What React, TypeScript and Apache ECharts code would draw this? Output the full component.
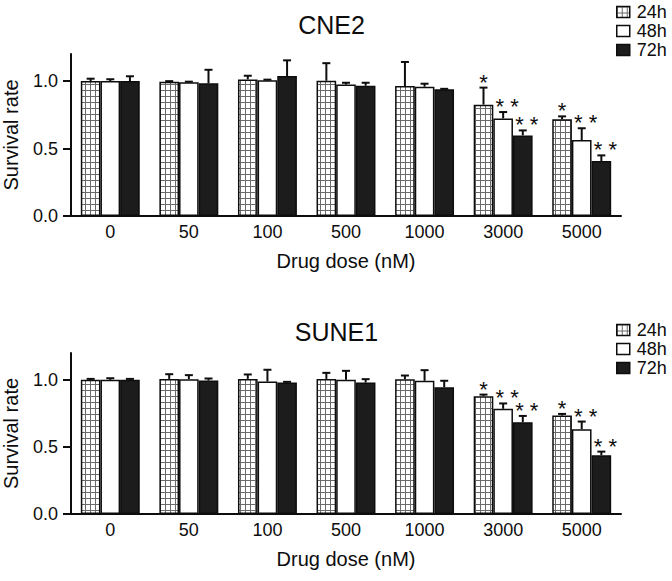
import React, { useEffect, useRef } from 'react';
import * as echarts from 'echarts';

const categories = ['0', '50', '100', '500', '1000', '3000', '5000'];
const timeNames = ['24h', '48h', '72h'];
const yTicks = [0, 0.5, 1.0];
const panelTitles = ['CNE2', 'SUNE1'];

// CNE2
const cne2_24h = [1.0, 0.995, 1.012, 1.002, 0.963, 0.825, 0.716];
const cne2_24h_err = [0.017, 0.004, 0.027, 0.13, 0.178, 0.126, 0.022];
const cne2_48h = [1.0, 0.99, 1.005, 0.975, 0.958, 0.723, 0.563];
const cne2_48h_err = [0.013, 0.005, 0.005, 0.012, 0.022, 0.047, 0.087];
const cne2_72h = [1.0, 0.983, 1.037, 0.965, 0.938, 0.597, 0.407];
const cne2_72h_err = [0.035, 0.1, 0.116, 0.022, 0.004, 0.037, 0.042];
const cne2_sig_24h = ['', '', '', '', '', '*', '*'];
const cne2_sig_48h = ['', '', '', '', '', '**', '**'];
const cne2_sig_72h = ['', '', '', '', '', '**', '**'];

// SUNE1
const sune1_24h = [1.0, 1.007, 1.007, 1.007, 1.005, 0.878, 0.734];
const sune1_24h_err = [0.007, 0.035, 0.033, 0.045, 0.027, 0.012, 0.012];
const sune1_48h = [1.0, 1.005, 0.987, 1.0, 0.993, 0.784, 0.632];
const sune1_48h_err = [0.012, 0.03, 0.088, 0.067, 0.079, 0.04, 0.057];
const sune1_72h = [1.0, 0.995, 0.98, 0.98, 0.945, 0.684, 0.438];
const sune1_72h_err = [0.007, 0.015, 0.005, 0.025, 0.048, 0.047, 0.027];
const sune1_sig_24h = ['', '', '', '', '', '*', '*'];
const sune1_sig_48h = ['', '', '', '', '', '**', '**'];
const sune1_sig_72h = ['', '', '', '', '', '**', '**'];

const panels = [
  {
    title: panelTitles[0],
    values: [cne2_24h, cne2_48h, cne2_72h],
    errors: [cne2_24h_err, cne2_48h_err, cne2_72h_err],
    sigs: [cne2_sig_24h, cne2_sig_48h, cne2_sig_72h],
  },
  {
    title: panelTitles[1],
    values: [sune1_24h, sune1_48h, sune1_72h],
    errors: [sune1_24h_err, sune1_48h_err, sune1_72h_err],
    sigs: [sune1_sig_24h, sune1_sig_48h, sune1_sig_72h],
  },
];

const FONT = '"Liberation Sans", Arial, Helvetica, sans-serif';
const INK = '#0d0d0d';

function makePattern(): HTMLCanvasElement {
  const c = document.createElement('canvas');
  c.width = 5;
  c.height = 6;
  const ctx = c.getContext('2d')!;
  ctx.fillStyle = '#ffffff';
  ctx.fillRect(0, 0, 5, 6);
  ctx.fillStyle = '#6a6a6a';
  ctx.fillRect(0, 0, 5, 1);
  ctx.fillRect(0, 0, 1, 6);
  return c;
}

export default function App() {
  const ref = useRef<HTMLDivElement>(null);

  useEffect(() => {
    if (!ref.current) return;
    const chart = echarts.init(ref.current, undefined, { renderer: 'svg' });
    const pattern = makePattern();
    const fills: any[] = [
      { image: pattern, repeat: 'repeat' },
      '#ffffff',
      '#1c1c1c',
    ];

    const layout = [
      { top: 54, height: 162, titleTop: 12, titleX: 331.5, legendTop: 3 },
      { top: 353, height: 161, titleTop: 319, titleX: 336.5, legendTop: 321 },
    ];

    const grids: any[] = [];
    const xAxes: any[] = [];
    const yAxes: any[] = [];
    const titles: any[] = [];
    const legends: any[] = [];
    const series: any[] = [];

    panels.forEach((p, pi) => {
      const L = layout[pi];
      grids.push({ left: 71, right: 51, top: L.top, height: L.height, outerBoundsMode: 'none', containLabel: false });
      titles.push({
        text: p.title,
        left: L.titleX,
        textAlign: 'center',
        top: L.titleTop,
        padding: 0,
        textStyle: { fontSize: 25, fontWeight: 'normal', color: INK, fontFamily: FONT },
      });
      legends.push({
        data: timeNames,
        orient: 'vertical',
        left: 616,
        top: L.legendTop,
        padding: 0,
        icon: 'rect',
        itemWidth: 13,
        itemHeight: 11,
        itemGap: 1,
        selectedMode: false,
        itemStyle: { borderColor: INK, borderWidth: 1.5 },
        textStyle: { fontSize: 18, color: INK, fontFamily: FONT, padding: [0, 0, 0, 2] },
      });
      xAxes.push({
        type: 'category',
        gridIndex: pi,
        data: categories,
        axisLine: { lineStyle: { color: INK, width: 2 } },
        axisTick: { alignWithLabel: true, length: 5, lineStyle: { color: INK, width: 2 } },
        axisLabel: { fontSize: 18, color: INK, margin: 7, fontFamily: FONT },
        name: 'Drug dose (nM)',
        nameLocation: 'middle',
        nameGap: 35,
        nameTextStyle: { fontSize: 20, color: INK, fontFamily: FONT },
      });
      yAxes.push({
        type: 'value',
        gridIndex: pi,
        min: 0,
        max: 1.2,
        splitLine: { show: false },
        axisLine: { show: true, lineStyle: { color: INK, width: 2 } },
        axisTick: { show: true, length: 8, customValues: yTicks, lineStyle: { color: INK, width: 2 } },
        axisLabel: {
          fontSize: 18,
          color: INK,
          margin: 13,
          fontFamily: FONT,
          customValues: yTicks,
          formatter: (v: number) => v.toFixed(1),
        },
        name: 'Survival rate',
        nameLocation: 'middle',
        nameGap: 50,
        nameTextStyle: { fontSize: 20, color: INK, fontFamily: FONT },
      });

      timeNames.forEach((tn, si) => {
        series.push({
          type: 'bar',
          name: tn,
          xAxisIndex: pi,
          yAxisIndex: pi,
          data: p.values[si],
          barWidth: '25%',
          barGap: '0%',
          itemStyle: { color: fills[si], borderColor: INK, borderWidth: 1.5 },
        });
      });

      const errData: number[][] = [];
      const sigList: string[] = [];
      timeNames.forEach((_, si) => {
        p.values[si].forEach((v, ci) => {
          errData.push([ci, v, p.errors[si][ci], si]);
          sigList.push(p.sigs[si][ci]);
        });
      });

      series.push({
        type: 'custom',
        xAxisIndex: pi,
        yAxisIndex: pi,
        data: errData,
        clip: false,
        silent: true,
        renderItem: (params: any, api: any) => {
          const c = api.value(0);
          const v = api.value(1);
          const e = api.value(2);
          const s = api.value(3);
          const p0 = api.coord([c, v]);
          const p1 = api.coord([c, v + e]);
          const band = api.size([1, 0])[0];
          const x = p0[0] + (s - 1) * band * 0.25;
          const children: any[] = [
            { type: 'line', shape: { x1: x, y1: p0[1], x2: x, y2: p1[1] }, style: { stroke: INK, lineWidth: 2 } },
            { type: 'line', shape: { x1: x - 4, y1: p1[1], x2: x + 4, y2: p1[1] }, style: { stroke: INK, lineWidth: 2 } },
          ];
          const sig = sigList[params.dataIndex];
          if (sig) {
            children.push({
              type: 'text',
              x: x + (sig.length > 1 ? 4 : 0),
              y: p1[1] - 5.5,
              style: {
                text: sig.length > 1 ? '* *' : '*',
                fontSize: 22,
                fill: INK,
                align: 'center',
                verticalAlign: 'middle',
                fontFamily: FONT,
              },
            });
          }
          return { type: 'group', children };
        },
      });
    });

    chart.setOption({
      animation: false,
      textStyle: { fontFamily: FONT },
      title: titles,
      legend: legends,
      grid: grids,
      xAxis: xAxes,
      yAxis: yAxes,
      series,
    });

    return () => chart.dispose();
  }, []);

  return (
    <div
      ref={ref}
      style={{ position: 'absolute', left: 0, top: 0, width: 672, height: 581, background: '#fff' }}
    />
  );
}
